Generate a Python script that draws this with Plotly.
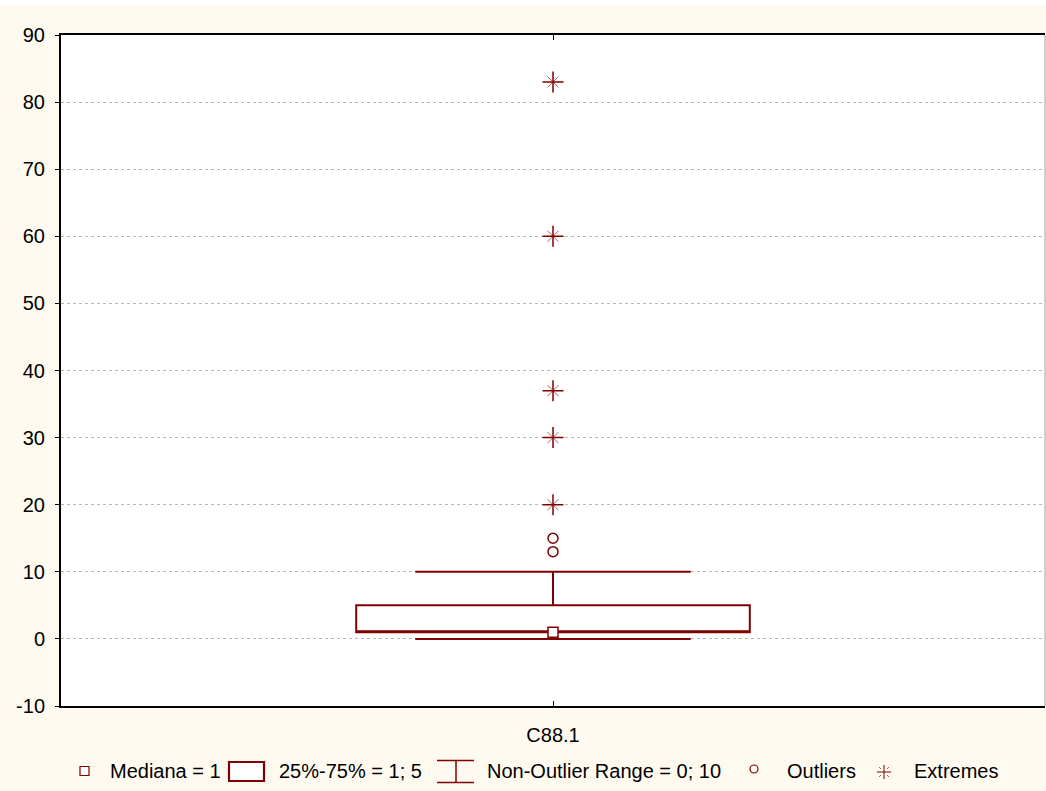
import plotly.graph_objects as go

# Box-plot summary for variable C88.1
category = ["C88.1"]
median = [1]
q1 = [1]
q3 = [5]
lower_fence = [0]
upper_fence = [10]
outliers = [13, 15]
extremes = [20, 30, 37, 60, 83]
y_ticks = [-10, 0, 10, 20, 30, 40, 50, 60, 70, 80, 90]

DARK_RED = "#800000"
CREAM = "#FFFAF0"
FONT = "Liberation Sans, Arial, sans-serif"

W, H = 1046, 791
L, R, T, B = 61, 1, 35, 85
PW, PH = W - L - R, H - T - B


def px(x):
    return (x - L) / PW


def py(y):
    return (H - B - y) / PH


fig = go.Figure()

fig.add_trace(go.Box(
    x=category, q1=q1, median=median, q3=q3,
    lowerfence=lower_fence, upperfence=upper_fence,
    width=0.4, whiskerwidth=0.70,
    fillcolor="white", line=dict(color=DARK_RED, width=2),
    boxpoints=False, showlegend=False, hoverinfo="skip",
))

fig.add_trace(go.Scatter(
    x=category, y=median, mode="markers", showlegend=False,
    marker=dict(symbol="square", size=10, color="white",
                line=dict(color=DARK_RED, width=1.5)),
))

fig.add_trace(go.Scatter(
    x=category * len(outliers), y=outliers, mode="markers", showlegend=False,
    marker=dict(symbol="circle-open", size=10, color=DARK_RED,
                line=dict(color=DARK_RED, width=1.5)),
))

# extremes: a plus with lighter diagonal strokes
fig.add_trace(go.Scatter(
    x=category * len(extremes), y=extremes, mode="markers", showlegend=False,
    marker=dict(symbol="x-thin-open", size=11, color="#b06060",
                line=dict(color="#b06060", width=1)),
))
fig.add_trace(go.Scatter(
    x=category * len(extremes), y=extremes, mode="markers", showlegend=False,
    marker=dict(symbol="cross-thin-open", size=15, color=DARK_RED,
                line=dict(color=DARK_RED, width=1.5)),
))

# ---- legend row drawn along the bottom ----
shapes = []
annotations = []
ly = 771  # legend centre line (pixels from top)

# median square
shapes.append(dict(type="rect", xref="paper", yref="paper",
                   x0=px(80), x1=px(89), y0=py(ly - 4.5), y1=py(ly + 4.5),
                   line=dict(color=DARK_RED, width=1.2), fillcolor="white"))
# quartile box
shapes.append(dict(type="rect", xref="paper", yref="paper",
                   x0=px(229), x1=px(264), y0=py(762), y1=py(781),
                   line=dict(color=DARK_RED, width=2.2), fillcolor="white"))
# whisker I-beam
for x0, x1, y0, y1 in [(437, 474, 760.5, 760.5), (437, 474, 782.5, 782.5),
                       (456, 456, 760.5, 782.5)]:
    shapes.append(dict(type="line", xref="paper", yref="paper",
                       x0=px(x0), x1=px(x1), y0=py(y0), y1=py(y1),
                       line=dict(color=DARK_RED, width=1.5)))
# outlier circle
shapes.append(dict(type="circle", xref="paper", yref="paper",
                   x0=px(750), x1=px(758), y0=py(ly - 6), y1=py(ly + 2),
                   line=dict(color=DARK_RED, width=1.2)))
# extreme asterisk
ax, ay = 884, 772
for dx0, dy0, dx1, dy1, c in [(0, -7, 0, 7, DARK_RED), (-7, 0, 7, 0, DARK_RED),
                              (-5, -5, -3, -3, "#b06060"), (3, 3, 5, 5, "#b06060"),
                              (-5, 5, -3, 3, "#b06060"), (3, -3, 5, -5, "#b06060")]:
    shapes.append(dict(type="line", xref="paper", yref="paper",
                       x0=px(ax + dx0), x1=px(ax + dx1),
                       y0=py(ay + dy0), y1=py(ay + dy1),
                       line=dict(color=c, width=1)))

# plot frame: right edge is a thin grey line
shapes.append(dict(type="line", xref="paper", yref="paper",
                   x0=1, x1=1, y0=0, y1=1, line=dict(color="#a0a0a0", width=1)))
# white strip at the very top of the page
shapes.append(dict(type="rect", xref="paper", yref="paper",
                   x0=px(0), x1=px(W), y0=py(5), y1=py(-2),
                   line=dict(width=0), fillcolor="white"))

legend_texts = [
    (108, f"Mediana = {median[0]}"),
    (277, f"25%-75% = {q1[0]}; {q3[0]}"),
    (485, f"Non-Outlier Range = {lower_fence[0]}; {upper_fence[0]}"),
    (785, "Outliers"),
    (912, "Extremes"),
]
for x, t in legend_texts:
    annotations.append(dict(text=t, xref="paper", yref="paper",
                            x=px(x), y=py(ly), xanchor="left", yanchor="middle",
                            showarrow=False,
                            font=dict(family=FONT, size=20, color="black")))

fig.update_layout(
    width=W, height=H,
    margin=dict(l=L, r=R, t=T, b=B, pad=0),
    paper_bgcolor=CREAM, plot_bgcolor="white",
    font=dict(family=FONT, size=20, color="black"),
    showlegend=False,
    shapes=shapes, annotations=annotations,
    xaxis=dict(
        type="category", range=[-0.5, 0.5],
        showline=True, linecolor="black", linewidth=2, mirror="ticks",
        ticks="inside", ticklen=5, tickcolor="black", tickwidth=1,
        showgrid=False, zeroline=False, ticklabelstandoff=10,
        tickfont=dict(family=FONT, size=20),
    ),
    yaxis=dict(
        range=[-10, 90], tickmode="array", tickvals=y_ticks,
        ticktext=[str(v) for v in y_ticks],
        showline=True, linecolor="black", linewidth=2,
        ticks="outside", ticklen=4, tickcolor="black", tickwidth=1,
        showgrid=True, gridcolor="#b8b8b8", griddash="dot", gridwidth=1,
        zeroline=False, ticklabelstandoff=6,
        tickfont=dict(family=FONT, size=20),
    ),
)

fig.write_html("out.html")
